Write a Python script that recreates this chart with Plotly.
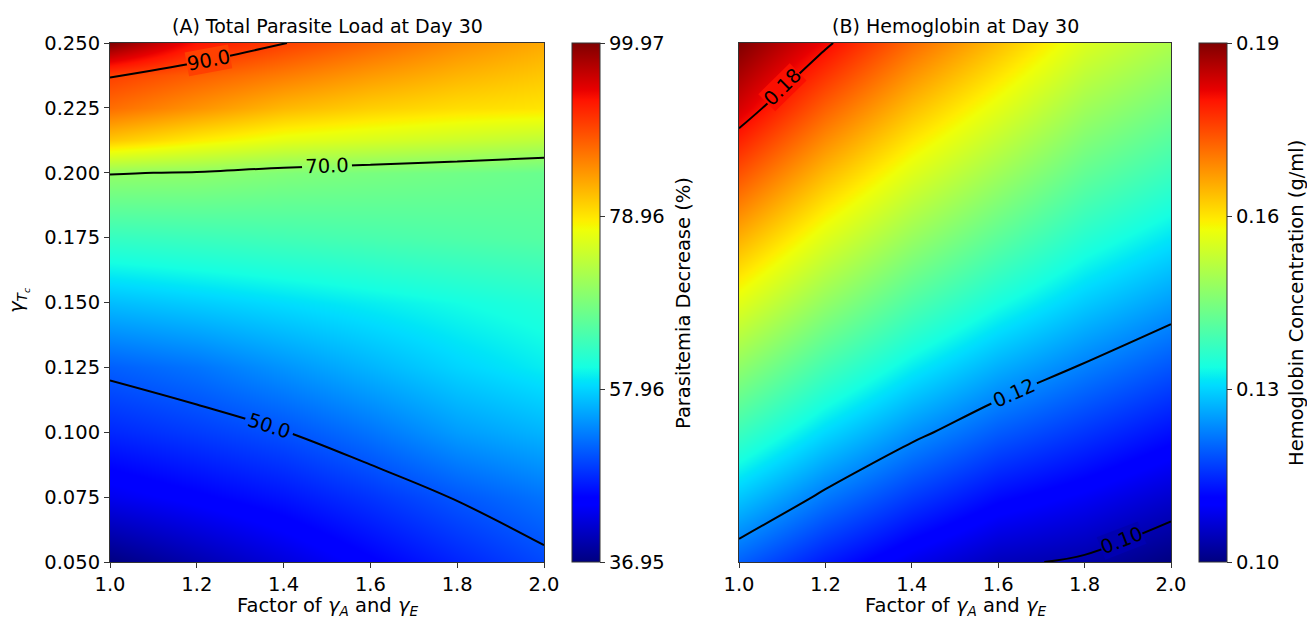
import math
import numpy as np
import plotly.graph_objects as go

# ---------------- data ----------------
factor = [1.0, 1.2, 1.4, 1.6, 1.8, 2.0]                 # x: factor of gamma_A and gamma_E

# (A) parasitemia decrease (%) -- rows follow gamma_Tc_A
gamma_Tc_A = [0.05, 0.075, 0.10, 0.125, 0.15, 0.175, 0.20, 0.2125, 0.225, 0.2375, 0.25]
parasite_decrease = [
    [36.95, 39.5, 42.0, 44.5, 47.0, 49.3],
    [43.0, 44.5, 46.0, 48.0, 50.2, 52.0],
    [47.2, 48.5, 49.9, 52.0, 54.5, 56.0],
    [50.7, 52.0, 54.0, 56.0, 58.0, 59.5],
    [56.5, 57.5, 58.5, 59.5, 60.5, 61.5],
    [63.0, 63.5, 64.0, 64.5, 65.0, 65.5],
    [70.2, 69.8, 68.8, 68.2, 67.6, 67.0],
    [81.0, 78.5, 76.5, 75.5, 74.5, 73.5],
    [87.0, 84.5, 82.0, 80.5, 79.5, 79.0],
    [90.2, 88.0, 86.0, 84.0, 82.3, 81.0],
    [99.97, 93.0, 90.1, 87.5, 85.0, 83.0],
]
levels_A = [50.0, 70.0, 90.0]
range_A = [36.95, 99.97]

# (B) hemoglobin concentration (g/ml)
gamma_Tc_B = [0.05, 0.075, 0.10, 0.125, 0.15, 0.175, 0.20, 0.225, 0.25]
hemoglobin = [
    [0.1166, 0.1101, 0.1048, 0.1008, 0.0993, 0.0960],
    [0.1261, 0.1189, 0.1131, 0.1084, 0.1057, 0.1024],
    [0.1356, 0.1278, 0.1213, 0.1162, 0.1126, 0.1090],
    [0.1451, 0.1366, 0.1296, 0.1239, 0.1195, 0.1156],
    [0.1546, 0.1455, 0.1378, 0.1316, 0.1264, 0.1222],
    [0.1640, 0.1543, 0.1461, 0.1394, 0.1332, 0.1288],
    [0.1735, 0.1631, 0.1543, 0.1471, 0.1401, 0.1354],
    [0.1830, 0.1720, 0.1626, 0.1549, 0.1470, 0.1420],
    [0.1900, 0.1809, 0.1708, 0.1626, 0.1539, 0.1486],
]
levels_B = [0.10, 0.12, 0.18]
range_B = [0.096, 0.19]

x_ticks = [1.0, 1.2, 1.4, 1.6, 1.8, 2.0]
y_ticks = [0.050, 0.075, 0.100, 0.125, 0.150, 0.175, 0.200, 0.225, 0.250]

# where along the x axis the short contours carry their label
label_x_A = {90.0: 1.226}
label_x_B = {0.18: 1.10, 0.10: 1.886}

# ---------------- matplotlib "jet" colormap ----------------
_r = ([0, 0.35, 0.66, 0.89, 1], [0, 0, 1, 1, 0.5])
_g = ([0, 0.125, 0.375, 0.64, 0.91, 1], [0, 0, 1, 1, 0, 0])
_b = ([0, 0.11, 0.34, 0.65, 1], [0.5, 1, 1, 0, 0])
def jet_rgb(t):
    t = min(max(t, 0), 1)
    r = np.interp(t, *_r); g = np.interp(t, *_g); b = np.interp(t, *_b)
    return f"rgb({int(round(r*255))},{int(round(g*255))},{int(round(b*255))})"
_stops = [0, 0.11, 0.125, 0.34, 0.35, 0.375, 0.64, 0.65, 0.66, 0.89, 0.91, 1]
jet = [[t, jet_rgb(t)] for t in _stops]

W, H = 1307, 618
def px_x(p): return p / W
def px_y(p): return 1 - p / H

FONT = "DejaVu Sans, Liberation Sans, sans-serif"
FS = 19.5

plot_top, plot_bot = 43, 562
A_l, A_r = 110, 544
B_l, B_r = 739, 1171

def cbar(x_left, vmin, vmax, fmt):
    vals = list(np.linspace(vmin, vmax, 4))
    return dict(
        x=px_x(x_left), xanchor="left", xpad=0,
        y=px_y(plot_bot), yanchor="bottom", ypad=0,
        len=plot_bot - plot_top, lenmode="pixels",
        thickness=28, thicknessmode="pixels",
        outlinewidth=1, outlinecolor="#333",
        tickvals=vals, ticktext=[fmt.format(v) for v in vals],
        ticks="outside", ticklen=5, tickcolor="#333",
        tickfont=dict(family=FONT, size=FS, color="black"),
    )

def contour_trace(xs, ys, zs, lv_start, lv_end, size, labels, fmt, xa, ya):
    return go.Contour(
        x=xs, y=ys, z=zs,
        contours=dict(coloring="lines", start=lv_start, end=lv_end, size=size,
                      showlabels=labels, labelformat=fmt,
                      labelfont=dict(family=FONT, size=FS, color="black")),
        line=dict(color="black", width=2), showscale=False,
        colorscale=[[0, "black"], [1, "black"]],
        xaxis=xa, yaxis=ya, hoverinfo="skip")

fig = go.Figure()

fig.add_trace(go.Heatmap(
    x=factor, y=gamma_Tc_A, z=parasite_decrease, zsmooth="best",
    colorscale=jet, zmin=range_A[0], zmax=range_A[1],
    colorbar=cbar(572, range_A[0], range_A[1], "{:.2f}"),
    xaxis="x", yaxis="y", hoverinfo="skip"))
fig.add_trace(contour_trace(factor, gamma_Tc_A, parasite_decrease,
                            levels_A[0], levels_A[1], levels_A[1] - levels_A[0],
                            True, ".1f", "x", "y"))
fig.add_trace(contour_trace(factor, gamma_Tc_A, parasite_decrease,
                            levels_A[2], levels_A[2], 1, False, ".1f", "x", "y"))

fig.add_trace(go.Heatmap(
    x=factor, y=gamma_Tc_B, z=hemoglobin, zsmooth="best",
    colorscale=jet, zmin=range_B[0], zmax=range_B[1],
    colorbar=cbar(1199, range_B[0], range_B[1], "{:.2f}"),
    xaxis="x2", yaxis="y2", hoverinfo="skip"))
for lv in levels_B:
    fig.add_trace(contour_trace(factor, gamma_Tc_B, hemoglobin, lv, lv, 0.01,
                                lv not in label_x_B, ".2f", "x2", "y2"))

axis_common = dict(showline=True, linecolor="#333", linewidth=1, mirror=True,
                   showgrid=False, zeroline=False, ticks="outside", ticklen=5,
                   tickcolor="#333", automargin=False,
                   tickfont=dict(family=FONT, size=FS, color="black"))

fig.update_layout(
    width=W, height=H, margin=dict(l=0, r=0, t=0, b=0, autoexpand=False),
    paper_bgcolor="white", plot_bgcolor="white", showlegend=False,
    xaxis=dict(domain=[px_x(A_l), px_x(A_r)], range=[1.0, 2.0], anchor="y",
               tickvals=x_ticks, ticktext=[f"{v:.1f}" for v in x_ticks], **axis_common),
    yaxis=dict(domain=[px_y(plot_bot), px_y(plot_top)], range=[0.05, 0.25], anchor="x",
               tickvals=y_ticks, ticktext=[f"{v:.3f}" for v in y_ticks], **axis_common),
    xaxis2=dict(domain=[px_x(B_l), px_x(B_r)], range=[1.0, 2.0], anchor="y2",
                tickvals=x_ticks, ticktext=[f"{v:.1f}" for v in x_ticks], **axis_common),
    yaxis2=dict(domain=[px_y(plot_bot), px_y(plot_top)], range=[0.05, 0.25], anchor="x2",
                **{**axis_common, "ticks": "", "showticklabels": False}),
)

# ---------- labels for the short contour lines (position derived from the grid) ----------
def column_at(xs, ys, zs, xq):
    zs = np.asarray(zs, dtype=float)
    return np.array([np.interp(xq, xs, row) for row in zs])

def crossing_y(xs, ys, zs, xq, level):
    col = column_at(xs, ys, zs, xq)
    for i in range(len(ys) - 1):
        a, b = col[i], col[i + 1]
        if (a - level) * (b - level) <= 0 and a != b:
            return ys[i] + (ys[i + 1] - ys[i]) * (level - a) / (b - a)
    return None

def add_contour_label(xs, ys, zs, level, xq, fmt, xa, ya, x_px_len, zr):
    yq = crossing_y(xs, ys, zs, xq, level)
    if yq is None:
        return
    dx = 0.02
    y1 = crossing_y(xs, ys, zs, xq - dx, level)
    y2 = crossing_y(xs, ys, zs, xq + dx, level)
    y1 = yq if y1 is None else y1
    y2 = yq if y2 is None else y2
    x1 = xq - dx if y1 != yq else xq
    x2 = xq + dx if y2 != yq else xq
    slope_px = ((y2 - y1) * (plot_bot - plot_top) / 0.2) / ((x2 - x1) * x_px_len)
    angle = -math.degrees(math.atan(slope_px))
    t = (level - zr[0]) / (zr[1] - zr[0])
    fig.add_annotation(text=fmt.format(level), x=xq, y=yq, xref=xa, yref=ya,
                       showarrow=False, textangle=angle, bgcolor=jet_rgb(t),
                       borderpad=0, xanchor="center", yanchor="middle",
                       font=dict(family=FONT, size=FS, color="black"))

for lv, xq in label_x_A.items():
    add_contour_label(factor, gamma_Tc_A, parasite_decrease, lv, xq, "{:.1f}",
                      "x", "y", A_r - A_l, range_A)
for lv, xq in label_x_B.items():
    add_contour_label(factor, gamma_Tc_B, hemoglobin, lv, xq, "{:.2f}",
                      "x2", "y2", B_r - B_l, range_B)

def ann(text, x, y, size=FS, angle=0, xanchor="center", yanchor="middle"):
    fig.add_annotation(text=text, x=px_x(x), y=px_y(y), xref="paper", yref="paper",
                       showarrow=False, textangle=angle, xanchor=xanchor, yanchor=yanchor,
                       font=dict(family=FONT, size=size, color="black"))

ann("(A) Total Parasite Load at Day 30", (A_l + A_r) / 2, 26, size=19)
ann("(B) Hemoglobin at Day 30", (B_l + B_r) / 2, 26, size=19)
ann("Factor of <i>γ<sub>A</sub></i> and <i>γ<sub>E</sub></i>", (A_l + A_r) / 2, 606)
ann("Factor of <i>γ<sub>A</sub></i> and <i>γ<sub>E</sub></i>", (B_l + B_r) / 2, 606)
ann("<i>γ<sub>T<sub>c</sub></sub></i>", 18, 300, angle=-90)
ann("Parasitemia Decrease (%)", 683, 303, angle=-90)
ann("Hemoglobin Concentration (g/ml)", 1296, 303, angle=-90)

fig.write_html(
    "out.html",
    config={"displayModeBar": False},
    post_script="document.body.style.margin='0';document.body.style.padding='0';"
                "document.body.style.overflow='hidden';",
)
